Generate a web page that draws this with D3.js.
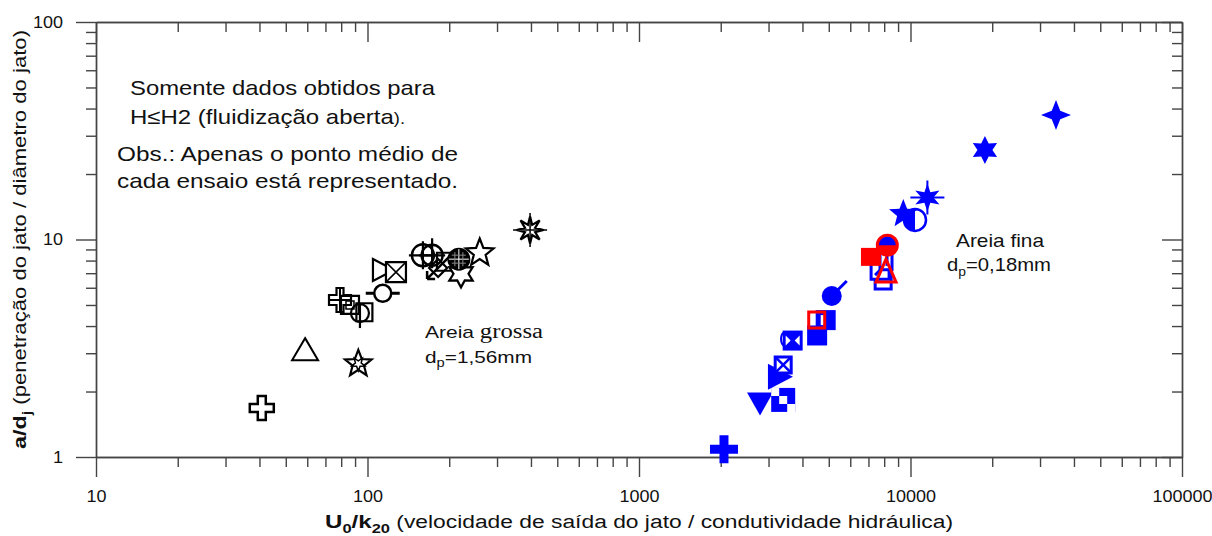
<!DOCTYPE html>
<html><head><meta charset="utf-8">
<script src="https://cdn.jsdelivr.net/npm/d3@7"></script>
<style>body{margin:0;background:#fff}svg{display:block}</style>
</head><body><svg id="c" width="1212" height="536"></svg>
<script>
// ---- axis ticks ----
const xTickValues = [10, 100, 1000, 10000, 100000];
const xTickLabels = ["10", "100", "1000", "10000", "100000"];
const yTickValues = [1, 10, 100];
const yTickLabels = ["1", "10", "100"];

// ---- coarse sand (Areia grossa, black open markers) ----
const coarseX = [40.8, 58.9, 92.5, 79.2, 86.2, 93.8, 97.4, 113.8, 114, 127.3, 160, 173, 182, 194.5, 221, 217, 259, 397];
const coarseY = [1.68, 3.1, 2.68, 5.27, 5.0, 4.59, 4.63, 5.66, 7.24, 7.08, 8.46, 8.46, 7.4, 7.9, 6.95, 8.12, 8.67, 11.06];
const coarseShapes = ["plusOpen", "triUp", "starStar", "doubleCross", "squareDot", "circleVLine", "squareSmall", "circleHBars", "triRight", "squareX", "circlePlus", "circlePlusLong", "arrowDiamond", "squarePlain", "star6", "circleHatch", "star5", "star8"];

// ---- fine sand (Areia fina, blue markers) ----
const fineBlueX = [2056, 2791, 3397, 3304, 3397, 3450, 3681, 4530, 4871, 5128, 7930, 7727, 8125, 8215, 10390, 9408, 11540, 18800, 34350];
const fineBlueY = [1.085, 1.80, 1.83, 2.34, 2.65, 3.49, 3.43, 3.62, 4.26, 5.5, 6.45, 7.23, 8.06, 9.41, 12.3, 13.1, 15.6, 25.8, 37.4];
const fineBlueShapes = ["plusFill", "triDownFill", "checker", "triRightFill", "squareXo", "ellipseO", "squareBowtie", "squareFill", "squareBar", "circleTail", "squareO", "squareSlash", "squareTall", "circleFill", "circleHalfLeft", "star5Fill", "asterStar", "star6Fill", "star4Fill"];

// ---- fine sand, red markers ----
const fineRedX = [4514, 7212, 8125, 8215];
const fineRedY = [4.26, 8.32, 7.08, 9.41];
const fineRedShapes = ["squareOR", "squareFillR", "triR", "circleHalfBottomR"];

const FONT = "Arial, 'Liberation Sans', sans-serif";
const AX = "#444";
const svg = d3.select("#c");
const X0 = 96, X1 = 1182, Y0 = 457, Y1 = 22;
const x = d3.scaleLog().domain([xTickValues[0], xTickValues[xTickValues.length - 1]]).range([X0, X1]);
const y = d3.scaleLog().domain([yTickValues[0], yTickValues[yTickValues.length - 1]]).range([Y0, Y1]);
const isPow = v => Math.abs(Math.log10(v) - Math.round(Math.log10(v))) < 1e-9;
const xMinor = x.ticks().filter(v => !isPow(v));
const yMinor = y.ticks().filter(v => !isPow(v));

function styleAxis(g) {
  g.select(".domain").attr("stroke", AX).attr("stroke-width", 1.4);
  g.selectAll(".tick line").attr("stroke", AX).attr("stroke-width", 1.4);
  g.selectAll("text").attr("font-size", 16).attr("fill", "#111").attr("font-family", FONT)
    .attr("textLength", function () { return this.textContent.length * 10; })
    .attr("lengthAdjust", "spacingAndGlyphs");
}
// bottom
svg.append("g").attr("transform", `translate(0,${Y0})`)
  .call(d3.axisBottom(x).tickValues(xMinor).tickSize(10).tickSizeOuter(0).tickFormat("")).call(styleAxis);
svg.append("g").attr("transform", `translate(0,${Y0})`)
  .call(d3.axisBottom(x).tickValues(xTickValues).tickFormat((d, i) => xTickLabels[i]).tickSize(20).tickSizeOuter(0).tickPadding(14)).call(styleAxis);
// top (ticks inward)
svg.append("g").attr("transform", `translate(0,${Y1})`)
  .call(d3.axisBottom(x).tickValues(xMinor).tickSize(10).tickSizeOuter(0).tickFormat("")).call(styleAxis);
svg.append("g").attr("transform", `translate(0,${Y1})`)
  .call(d3.axisBottom(x).tickValues(xTickValues).tickSize(20).tickSizeOuter(0).tickFormat("")).call(styleAxis);
// left
svg.append("g").attr("transform", `translate(${X0},0)`)
  .call(d3.axisLeft(y).tickValues(yMinor).tickSize(10).tickSizeOuter(0).tickFormat("")).call(styleAxis);
svg.append("g").attr("transform", `translate(${X0},0)`)
  .call(d3.axisLeft(y).tickValues(yTickValues).tickFormat((d, i) => yTickLabels[i]).tickSize(20).tickSizeOuter(0).tickPadding(13)).call(styleAxis);
// right (ticks inward)
svg.append("g").attr("transform", `translate(${X1},0)`)
  .call(d3.axisLeft(y).tickValues(yMinor).tickSize(10).tickSizeOuter(0).tickFormat("")).call(styleAxis);
svg.append("g").attr("transform", `translate(${X1},0)`)
  .call(d3.axisLeft(y).tickValues(yTickValues).tickSize(20).tickSizeOuter(0).tickFormat("")).call(styleAxis);

// ---- marker shapes ----
function starPath(n, R, r, rot = -Math.PI / 2) {
  const p = [];
  for (let i = 0; i < 2 * n; i++) {
    const a = rot + i * Math.PI / n, rr = i % 2 ? r : R;
    p.push((Math.cos(a) * rr).toFixed(2) + "," + (Math.sin(a) * rr).toFixed(2));
  }
  return "M" + p.join("L") + "Z";
}
const circ = r => `M${r},0A${r},${r} 0 1 1 ${-r},0A${r},${r} 0 1 1 ${r},0Z`;
// parts: [path, fill, stroke, strokeWidth]; 'c' = series colour, 'w' = white, 'n' = none
const SHAPES = {
  plusOpen: [["M-4,-12H4V-4H12V4H4V12H-4V4H-12V-4H-4Z", "w", "c", 2.5]],
  triUp: [["M0,-12L13,10H-13Z", "w", "c", 2]],
  starStar: [[starPath(5, 14, 6), "w", "c", 2.2], [starPath(5, 7, 3, Math.PI / 2), "n", "c", 1.5]],
  doubleCross: [["M-3.5,-12H3.5V-5H11V5H3.5V12H-3.5V5H-11V-5H-3.5Z", "w", "c", 2.2], ["M-11,0H11M0,-12V12", "n", "c", 2]],
  squareDot: [["M-9,-9H9V9H-9Z", "n", "c", 2.2], ["M-4,-4H4V4H-4Z", "n", "c", 1.5]],
  circleVLine: [[circ(9), "n", "c", 2.2], ["M0,-9V15", "n", "c", 2.2]],
  squareSmall: [["M-8,-9H8V9H-8Z", "n", "c", 2.2]],
  circleHBars: [[circ(8.5), "w", "c", 2.5], ["M-17,0H-8M8,0H17", "n", "c", 3]],
  triRight: [["M-10,-11L11,0L-10,11Z", "w", "c", 2.2]],
  squareX: [["M-10,-10H10V10H-10Z", "w", "c", 2.2], ["M-10,-10L10,10M10,-10L-10,10", "n", "c", 1.5]],
  circlePlus: [[circ(11), "n", "c", 2.4], ["M-14,0H14M0,-14V14", "n", "c", 2.2]],
  circlePlusLong: [[circ(10.5), "n", "c", 2.4], ["M-13,0H13M0,-17V13", "n", "c", 2.2]],
  arrowDiamond: [["M0,-9L9,0L0,9L-9,0Z", "n", "c", 2.2], ["M12,-12L-11,11M-11,11V3M-11,11H-3", "n", "c", 2.5]],
  squarePlain: [["M-9,-9H9V9H-9Z", "n", "c", 2.2]],
  star6: [[starPath(6, 13.5, 7.5), "w", "c", 2.2]],
  circleHatch: [[circ(10.5), "c", "c", 2], ["M-10,0H10M0,-10V10", "n", "w", 1], ["M-7,-4H7M-7,4H7M-4,-7V7M4,-7V7", "n", "#888", 1]],
  star5: [[starPath(5, 14.5, 6.2), "w", "c", 2.2]],
  star8: [[starPath(8, 13.5, 5.5), "w", "c", 2.2], ["M0,-17V17M-17,0H17", "n", "c", 1.5]],
  plusFill: [["M-4.5,-14H4.5V-4.5H14V4.5H4.5V14H-4.5V4.5H-14V-4.5H-4.5Z", "c", "n", 0]],
  triDownFill: [["M-13,-9H13L0,14Z", "c", "n", 0]],
  checker: [["M-12,-12H12V12H-12Z", "c", "n", 0], ["M-12,-12H-4V-4H-12Z M-4,-4H4V4H-4Z M4,4H12V12H4Z", "w", "n", 0]],
  triRightFill: [["M-12,-13L13,0L-12,13Z", "c", "n", 0]],
  squareXo: [["M-8,-8H8V8H-8Z", "w", "c", 3], ["M-8,-8L8,8M8,-8L-8,8", "n", "c", 2.5]],
  ellipseO: [["M-4,0A4,7 0 1 1 4,0A4,7 0 1 1 -4,0Z", "w", "c", 2]],
  squareBowtie: [["M-10,-10H10V10H-10Z", "c", "n", 0], ["M-7,-5L-2,0L-7,5Z M7,-5L2,0L7,5Z", "w", "n", 0]],
  squareFill: [["M-10,-10H10V10H-10Z", "c", "n", 0]],
  squareBar: [["M-10,-10H10V10H-10Z", "c", "n", 0], ["M-5,-5H-1V5H-5Z", "w", "n", 0]],
  circleTail: [[circ(10), "c", "n", 0], ["M6,-6L15,-15", "n", "c", 3]],
  squareO: [["M-8,-8H8V8H-8Z", "w", "c", 3]],
  squareSlash: [["M-9,-9H9V9H-9Z", "w", "c", 3], ["M-5,5L5,-5", "n", "c", 3]],
  squareTall: [["M-6,-10H6V10H-6Z", "w", "c", 3], ["M1,-6V6", "n", "c", 3]],
  circleFill: [[circ(10), "c", "n", 0]],
  circleHalfLeft: [[circ(11), "w", "c", 2.5], ["M0,-11A11,11 0 0 0 0,11Z", "c", "n", 0]],
  star5Fill: [[starPath(5, 15, 6.5), "c", "n", 0]],
  asterStar: [[starPath(6, 14, 6), "c", "n", 0], ["M0,-17V17M-17,0H17", "n", "c", 2]],
  star6Fill: [[starPath(6, 14, 7.5), "c", "n", 0]],
  star4Fill: [[starPath(4, 15, 6), "c", "n", 0]],
  squareOR: [["M-8,-8H8V8H-8Z", "n", "c", 3]],
  squareFillR: [["M-11,-9H9V9H-11Z", "c", "n", 0]],
  triR: [["M0,-13L10,10H-10Z", "n", "c", 3]],
  circleHalfBottomR: [[circ(10), "n", "c", 3], ["M-10,0A10,10 0 0 0 10,0Z", "c", "n", 0]]
};
function drawSeries(xs, ys, shapes, color) {
  const col = v => v === "c" ? color : v === "w" ? "#fff" : v === "n" ? "none" : v;
  svg.append("g").selectAll("g").data(d3.zip(xs, ys, shapes)).join("g")
    .attr("transform", d => `translate(${x(d[0])},${y(d[1])})`)
    .each(function (d) {
      const g = d3.select(this);
      SHAPES[d[2]].forEach(p => g.append("path").attr("d", p[0]).attr("fill", col(p[1]))
        .attr("stroke", col(p[2])).attr("stroke-width", p[3]).attr("stroke-linejoin", "miter"));
    });
}
drawSeries(coarseX, coarseY, coarseShapes, "#000");
drawSeries(fineBlueX, fineBlueY, fineBlueShapes, "#0000ff");
drawSeries(fineRedX, fineRedY, fineRedShapes, "#ff0000");

// ---- texts ----
function txt(xp, yp, size, len) {
  const t = svg.append("text").attr("x", xp).attr("y", yp).attr("font-family", FONT)
    .attr("font-size", size).attr("fill", "#111");
  if (len) t.attr("textLength", len).attr("lengthAdjust", "spacingAndGlyphs");
  return t;
}
txt(130, 95, 21, 305).text("Somente dados obtidos para");
const l2 = txt(130, 124, 21, 275);
l2.append("tspan").text("H≤H2 (fluidização aberta");
l2.append("tspan").attr("font-size", 16).text(").");
txt(117, 161, 21, 341).text("Obs.: Apenas o ponto médio de");
txt(117, 188, 21, 341).text("cada ensaio está representado.");

const ag = txt(425, 338, 17, 118);
ag.append("tspan").text("Areia ");
ag.append("tspan").attr("font-family", "'Liberation Serif', 'Times New Roman', serif").attr("font-size", 20).text("grossa");
const d1 = txt(425, 363, 17, 107);
d1.append("tspan").text("d");
d1.append("tspan").attr("font-size", 12).attr("dy", 4).text("p");
d1.append("tspan").attr("dy", -4).text("=1,56mm");

txt(956, 247, 19, 88).text("Areia fina");
const d2 = txt(947, 271, 19, 104);
d2.append("tspan").text("d");
d2.append("tspan").attr("font-size", 13).attr("dy", 5).text("p");
d2.append("tspan").attr("dy", -5).text("=0,18mm");

// x title
const xt = txt((X0 + X1) / 2, 528, 18, 628).attr("text-anchor", "middle");
xt.append("tspan").attr("font-weight", "bold").attr("font-size", 19).text("U");
xt.append("tspan").attr("font-weight", "bold").attr("font-size", 13).attr("dy", 5).text("0");
xt.append("tspan").attr("font-weight", "bold").attr("font-size", 19).attr("dy", -5).text("/k");
xt.append("tspan").attr("font-weight", "bold").attr("font-size", 13).attr("dy", 5).text("20");
xt.append("tspan").attr("dy", -5).text(" (velocidade de saída do jato / condutividade hidráulica)");

// y title
const yt = svg.append("text").attr("transform", `translate(26,${(Y0 + Y1) / 2})rotate(-90)`)
  .attr("text-anchor", "middle").attr("font-family", FONT).attr("font-size", 18).attr("fill", "#111")
  .attr("textLength", 419).attr("lengthAdjust", "spacingAndGlyphs");
yt.append("tspan").attr("font-weight", "bold").attr("font-size", 19).text("a/d");
yt.append("tspan").attr("font-weight", "bold").attr("font-size", 13).attr("dy", 5).text("j");
yt.append("tspan").attr("dy", -5).text(" (penetração do jato / diâmetro do jato)");
</script>
</body></html>
